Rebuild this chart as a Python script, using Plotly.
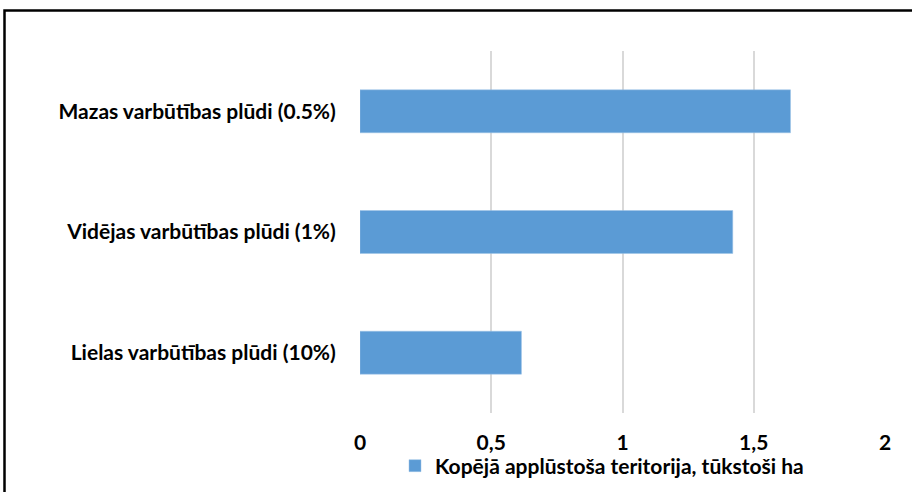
import plotly.graph_objects as go

# Flood scenarios and the total flooded area (thousand ha)
categories = [
    "Lielas varbūtības plūdi (10%)",
    "Vidējas varbūtības plūdi (1%)",
    "Mazas varbūtības plūdi (0.5%)",
]
area_thousand_ha = [0.615, 1.42, 1.64]
series_name = "Kopējā applūstoša teritorija, tūkstoši ha"
x_ticks = [0, 0.5, 1, 1.5, 2]

W, H = 912, 492
ML, MR, MT, MB = 360, 27, 51, 79
FONT = "Lato, Carlito, Calibri, sans-serif"
FS = 21

fig = go.Figure(
    go.Bar(
        x=area_thousand_ha,
        y=categories,
        orientation="h",
        name=series_name,
        marker=dict(color="#5b9bd5", line=dict(color="#9dc3e6", width=0.5)),
        showlegend=True,
    )
)

pw = W - ML - MR
ph = H - MT - MB


def px_to_paper_x(px):
    return (px - ML) / pw


def px_to_paper_y(py):
    return (H - MB - py) / ph


bold = dict(family=FONT, size=FS, color="black", weight="bold")

fig.update_layout(
    width=W,
    height=H,
    margin=dict(l=ML, r=MR, t=MT, b=MB, pad=0, autoexpand=False),
    paper_bgcolor="white",
    plot_bgcolor="white",
    separators=", ",
    bargap=0.644,
    font=bold,
    xaxis=dict(
        range=[0, 2],
        tickvals=x_ticks,
        showgrid=True,
        gridcolor="#d9d9d9",
        gridwidth=1.5,
        zeroline=False,
        showline=False,
        ticks="outside",
        ticklen=11,
        tickcolor="rgba(0,0,0,0)",
        tickfont=bold,
    ),
    yaxis=dict(
        showgrid=False,
        zeroline=False,
        showline=False,
        ticks="outside",
        ticklen=19,
        tickcolor="rgba(0,0,0,0)",
        tickfont=bold,
    ),
    legend=dict(
        orientation="h",
        xref="container",
        yref="container",
        x=395 / W,
        xanchor="left",
        y=(H - 466) / H,
        yanchor="middle",
        font=bold,
        bgcolor="rgba(0,0,0,0)",
    ),
    shapes=[
        dict(
            type="rect",
            xref="paper",
            yref="paper",
            x0=px_to_paper_x(4.5),
            y0=px_to_paper_y(H + 20),
            x1=px_to_paper_x(W + 20),
            y1=px_to_paper_y(10.5),
            line=dict(color="black", width=2.5),
            fillcolor="rgba(0,0,0,0)",
            layer="above",
        )
    ],
)

fig.write_html("out.html")
